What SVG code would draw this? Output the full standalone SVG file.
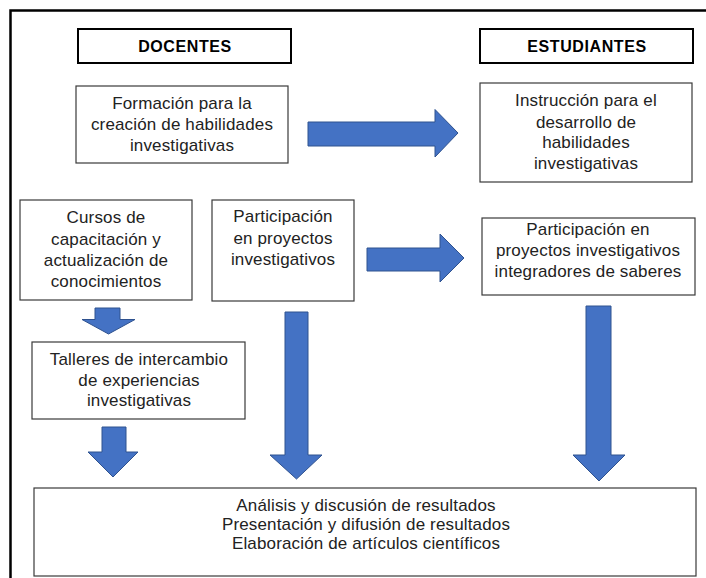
<svg xmlns="http://www.w3.org/2000/svg" width="706" height="578" viewBox="0 0 706 578">
<style>
.box{fill:#fff;stroke:#3a3a3a;stroke-width:1.2}
.hdr{fill:#fff;stroke:#000;stroke-width:2}
.t{font-family:"Liberation Sans",Arial,sans-serif;font-size:17px;letter-spacing:0.15px;fill:#222;text-anchor:middle}
.h{font-family:"Liberation Sans",Arial,sans-serif;font-size:16px;font-weight:bold;letter-spacing:0.6px;fill:#000;text-anchor:middle}
.arr{fill:#4472C4;stroke:#2F528F;stroke-width:1}
</style>
<rect x="0" y="0" width="706" height="578" fill="#fff"/>
<rect x="10.5" y="10.5" width="740" height="620" fill="none" stroke="#000" stroke-width="2.5"/>

<g id="docentes">
<rect class="hdr" x="78" y="29" width="213" height="34"/>
<text class="h" x="185" y="52">DOCENTES</text>
</g>
<g id="estudiantes">
<rect class="hdr" x="480" y="29" width="213" height="34"/>
<text class="h" x="587" y="52">ESTUDIANTES</text>
</g>
<g id="formacion">
<rect class="box" x="76" y="86" width="212" height="77"/>
<text class="t" x="182" y="109">Formación para la</text>
<text class="t" x="182" y="130">creación de habilidades</text>
<text class="t" x="182" y="151">investigativas</text>
</g>
<g id="instruccion">
<rect class="box" x="480" y="83" width="212" height="99"/>
<text class="t" x="586" y="106">Instrucción para el</text>
<text class="t" x="586" y="127.5">desarrollo de</text>
<text class="t" x="586" y="148">habilidades</text>
<text class="t" x="586" y="168.5">investigativas</text>
</g>
<g id="cursos">
<rect class="box" x="20" y="200" width="172" height="100"/>
<text class="t" x="106" y="223">Cursos de</text>
<text class="t" x="106" y="244.5">capacitación y</text>
<text class="t" x="106" y="266">actualización de</text>
<text class="t" x="106" y="287">conocimientos</text>
</g>
<g id="participacion-docentes">
<rect class="box" x="212" y="200" width="142" height="101"/>
<text class="t" x="283" y="222">Participación</text>
<text class="t" x="283" y="243.5">en proyectos</text>
<text class="t" x="283" y="265">investigativos</text>
</g>
<g id="participacion-estudiantes">
<rect class="box" x="482" y="218" width="213" height="77"/>
<text class="t" x="588" y="235">Participación en</text>
<text class="t" x="588" y="256">proyectos investigativos</text>
<text class="t" x="588" y="277">integradores de saberes</text>
</g>
<g id="talleres">
<rect class="box" x="32" y="342" width="213" height="77"/>
<text class="t" x="139" y="365">Talleres de intercambio</text>
<text class="t" x="139" y="386">de experiencias</text>
<text class="t" x="139" y="406">investigativas</text>
</g>
<g id="resultados">
<rect class="box" x="34" y="488" width="662" height="88" stroke="#1a1a1a"/>
<text class="t" x="366" y="511">Análisis y discusión de resultados</text>
<text class="t" x="366" y="530">Presentación y difusión de resultados</text>
<text class="t" x="366" y="549">Elaboración de artículos científicos</text>
</g>

<g id="connectors">
<polygon class="arr" points="308,122 435,122 435,109.5 458,133 435,157 435,146 308,146"/>
<polygon class="arr" points="367,248 440,248 440,234 464,258 440,282 440,271 367,271"/>
<polygon class="arr" points="95,308 120,308 120,319.5 135,319.5 108.5,334 82,319.5 95,319.5"/>
<polygon class="arr" points="102,427 126,427 126,452 138,452 113,477 88,452 102,452"/>
<polygon class="arr" points="285,312 308,312 308,455 322,455 296.5,479 270,455 285,455"/>
<polygon class="arr" points="586,306 611,306 611,455 625,455 599,481 573,455 586,455"/>
</g>
</svg>
